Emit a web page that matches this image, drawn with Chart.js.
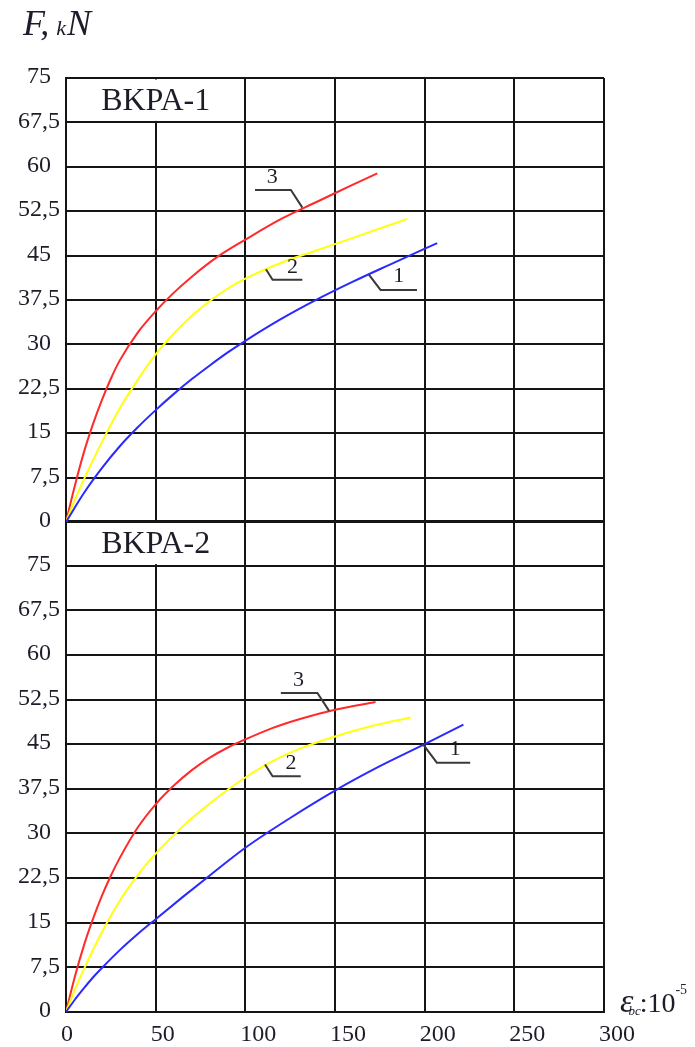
<!DOCTYPE html>
<html><head><meta charset="utf-8">
<script src="https://cdn.jsdelivr.net/npm/chart.js@4.4.0/dist/chart.umd.min.js"></script>
<style>
html,body{margin:0;padding:0;background:#fff;}
#wrap{position:relative;width:695px;height:1047px;}
canvas{position:absolute;left:0;top:0;}
</style></head><body>
<div id="wrap">
<canvas id="bot" width="695" height="1047"></canvas>
<canvas id="top" width="695" height="545"></canvas>
</div>
<script>
// ---- data ----
const xTicks = [0, 50, 100, 150, 200, 250, 300];
const xTickLabels = ['0', '50', '100', '150', '200', '250', '300'];
const yTicks = [0, 7.5, 15, 22.5, 30, 37.5, 45, 52.5, 60, 67.5, 75];
const yTickLabels = ['0', '7,5', '15', '22,5', '30', '37,5', '45', '52,5', '60', '67,5', '75'];
const seriesNames = ['1', '2', '3'];
const panelTitles = ['BKPA-1', 'BKPA-2'];

// Panel BKPA-1
const p1s1x = [0, 10, 20, 30, 40, 50, 60, 70, 80, 90, 100, 120, 140, 160, 180, 207];
const p1s1y = [0, 4.9, 9.1, 12.8, 16, 18.9, 21.6, 24.1, 26.4, 28.6, 30.6, 34.3, 37.6, 40.6, 43.4, 47.1];
const p1s2x = [0, 5, 10, 20, 30, 40, 50, 60, 70, 80, 90, 100, 120, 140, 160, 190.3];
const p1s2y = [0, 3.8, 7.2, 13.5, 19.2, 24, 28.3, 31.8, 34.8, 37.3, 39.4, 41.1, 43.8, 45.9, 48, 51.2];
const p1s3x = [0, 5, 10, 15, 20, 25, 30, 40, 50, 60, 70, 85, 100, 120, 140, 160, 173.6];
const p1s3y = [0, 6.2, 11.8, 16.5, 20.6, 24.2, 27.3, 32, 35.6, 38.7, 41.4, 44.9, 47.7, 51.2, 54.1, 57, 58.9];

// Panel BKPA-2
const p2s1x = [0, 5, 10, 15, 20, 30, 40, 50, 65, 80, 100, 125, 150, 175, 200, 221.6];
const p2s1y = [0, 2.1, 4.0, 5.8, 7.4, 10.4, 13.1, 15.6, 19.3, 22.9, 27.6, 32.6, 37.2, 41.3, 45, 48.3];
const p2s2x = [0, 5, 10, 20, 30, 40, 50, 60, 70, 80, 90, 100, 115, 130, 150, 170, 192.2];
const p2s2y = [0, 3.8, 7.2, 13.4, 18.7, 23, 26.6, 29.7, 32.5, 35, 37.3, 39.4, 42.1, 44.2, 46.3, 48, 49.5];
const p2s3x = [0, 5, 10, 15, 20, 25, 30, 40, 50, 60, 70, 80, 90, 100, 115, 130, 150, 172.6];
const p2s3y = [0, 6, 11.2, 15.6, 19.5, 22.9, 25.9, 31, 34.9, 38, 40.6, 42.7, 44.4, 45.8, 47.7, 49.2, 50.8, 52.1];

// ---- styling ----
const SERIF = '"Liberation Serif", "Times New Roman", serif';
const colors = ['#2a2aff', '#ffff10', '#ff2a2a'];
const gridColor = '#151515';
const textColor = '#1d1d2a';
const TICK_FONT = '24px ' + SERIF;

// callout leaders (data coordinates)
const callouts1 = [
  {label: seriesNames[2], path: [[105.4, 56.1], [125.4, 56.1], [131.8, 53.1]], at: [115, 58.3]},
  {label: seriesNames[1], path: [[111.5, 42.7], [115.2, 40.9], [131.8, 40.9]], at: [126.3, 43]},
  {label: seriesNames[0], path: [[168.9, 41.8], [175.4, 39.2], [195.7, 39.2]], at: [185.6, 41.6]}
];
const callouts2 = [
  {label: seriesNames[2], path: [[119.8, 53.6], [140.2, 53.6], [146.7, 50.6]], at: [129.6, 55.8]},
  {label: seriesNames[1], path: [[111, 41.6], [115.2, 39.6], [130.9, 39.6]], at: [125.4, 41.8]},
  {label: seriesNames[0], path: [[199, 45], [206.8, 41.9], [225.4, 41.9]], at: [217, 44.2]}
];

function pts(xs, ys) { return xs.map((x, i) => ({x: x, y: ys[i]})); }
function ds(xs, ys, i) {
  return {label: seriesNames[i], data: pts(xs, ys), borderColor: colors[i], borderWidth: 2,
    pointRadius: 0, fill: false, cubicInterpolationMode: 'monotone'};
}

function makeScales(yMax, yTickVals, xHeight) {
  return {
    x: {
      type: 'linear', min: 0, max: 300,
      afterBuildTicks: s => { s.ticks = xTicks.map(v => ({value: v})); },
      afterFit: s => { s.height = xHeight; },
      ticks: {display: false},
      grid: {color: gridColor, lineWidth: 2, drawTicks: false},
      border: {color: gridColor, width: 2}
    },
    y: {
      type: 'linear', min: 0, max: yMax,
      afterBuildTicks: s => { s.ticks = yTickVals.map(v => ({value: v})); },
      afterFit: s => { s.width = 66; },
      ticks: {display: false},
      grid: {color: gridColor, lineWidth: 2, drawTicks: false},
      border: {color: gridColor, width: 2}
    }
  };
}

// tick labels drawn at the library's own tick positions
function drawYLabels(chart) {
  const ys = chart.scales.y, ctx = chart.ctx;
  ctx.save();
  ctx.fillStyle = textColor;
  ctx.font = TICK_FONT;
  ctx.textAlign = 'right';
  ctx.textBaseline = 'middle';
  yTicks.forEach((v, i) => {
    const lab = yTickLabels[i];
    const right = lab.indexOf(',') >= 0 ? 60 : 51;
    ctx.fillText(lab, right, ys.getPixelForValue(v) - 1);
  });
  ctx.restore();
}
function drawXLabels(chart) {
  const xs = chart.scales.x, ctx = chart.ctx;
  ctx.save();
  ctx.fillStyle = textColor;
  ctx.font = TICK_FONT;
  ctx.textAlign = 'left';
  ctx.textBaseline = 'middle';
  xTicks.forEach((v, i) => {
    ctx.fillText(xTickLabels[i], xs.getPixelForValue(v) - 5, chart.chartArea.bottom + 23);
  });
  ctx.restore();
}

function panelPlugin(title, boxYLo, boxYHi, callouts, extra) {
  return {
    id: 'panel' + title,
    beforeDatasetsDraw(chart) {
      const xs = chart.scales.x, ys = chart.scales.y, ctx = chart.ctx;
      const x0 = xs.getPixelForValue(0), x1 = xs.getPixelForValue(100);
      const yA = ys.getPixelForValue(boxYHi), yB = ys.getPixelForValue(boxYLo);
      ctx.save();
      ctx.fillStyle = '#fff';
      ctx.fillRect(x0 + 1.5, yA + 1.5, x1 - x0 - 3, yB - yA - 3);
      ctx.fillStyle = textColor;
      ctx.font = '32px ' + SERIF;
      ctx.textAlign = 'center';
      ctx.textBaseline = 'middle';
      ctx.fillText(title, (x0 + x1) / 2, (yA + yB) / 2 + 1);
      ctx.restore();
    },
    afterDatasetsDraw(chart) {
      const xs = chart.scales.x, ys = chart.scales.y, ctx = chart.ctx;
      ctx.save();
      ctx.strokeStyle = '#3a3a3a';
      ctx.lineWidth = 2;
      ctx.fillStyle = textColor;
      ctx.font = '22px ' + SERIF;
      ctx.textAlign = 'center';
      ctx.textBaseline = 'middle';
      callouts.forEach(c => {
        ctx.beginPath();
        c.path.forEach((p, i) => {
          const px = xs.getPixelForValue(p[0]), py = ys.getPixelForValue(p[1]);
          if (i === 0) ctx.moveTo(px, py); else ctx.lineTo(px, py);
        });
        ctx.stroke();
        ctx.fillText(c.label, xs.getPixelForValue(c.at[0]), ys.getPixelForValue(c.at[1]));
      });
      ctx.restore();
      drawYLabels(chart);
      if (extra) extra(chart);
    }
  };
}

function drawYTitle(chart) {
  const ctx = chart.ctx;
  ctx.save();
  ctx.fillStyle = textColor;
  ctx.textBaseline = 'alphabetic';
  ctx.textAlign = 'left';
  let x = 23;
  const base = 35;
  ctx.font = 'italic 36px ' + SERIF;
  ctx.fillText('F,', x, base);
  x += ctx.measureText('F,').width + 7;
  ctx.font = 'italic 22px ' + SERIF;
  ctx.fillText('k', x, base);
  x += ctx.measureText('k').width + 1;
  ctx.font = 'italic 36px ' + SERIF;
  ctx.fillText('N', x, base);
  ctx.restore();
}

function drawXTitle(chart) {
  drawXLabels(chart);
  const ctx = chart.ctx;
  ctx.save();
  ctx.fillStyle = textColor;
  ctx.textBaseline = 'alphabetic';
  ctx.textAlign = 'left';
  const base = 1012;
  let x = 620;
  ctx.font = 'italic 34px ' + SERIF;
  ctx.fillText('ε', x, base);
  x += ctx.measureText('ε').width - 5;
  ctx.font = 'italic 13px ' + SERIF;
  ctx.fillText('bc', x, base + 3);
  x += ctx.measureText('bc').width - 1;
  ctx.font = '28px ' + SERIF;
  ctx.fillText(':10', x, base);
  x += ctx.measureText(':10').width;
  ctx.font = '14px ' + SERIF;
  ctx.fillText('-5', x, base - 18);
  ctx.restore();
}

const common = {
  responsive: false, animation: false, devicePixelRatio: 1,
  plugins: {legend: {display: false}, tooltip: {enabled: false}, title: {display: false}}
};

new Chart(document.getElementById('top'), {
  type: 'line',
  data: {datasets: [ds(p1s1x, p1s1y, 0), ds(p1s2x, p1s2y, 1), ds(p1s3x, p1s3y, 2)]},
  options: Object.assign({}, common, {
    layout: {padding: {top: 78, left: 0, right: 91, bottom: 0}},
    scales: makeScales(75, yTicks, 23)
  }),
  plugins: [panelPlugin(panelTitles[0], 67.5, 75, callouts1, drawYTitle)]
});

new Chart(document.getElementById('bot'), {
  type: 'line',
  data: {datasets: [ds(p2s1x, p2s1y, 0), ds(p2s2x, p2s2y, 1), ds(p2s3x, p2s3y, 2)]},
  options: Object.assign({}, common, {
    layout: {padding: {top: 521, left: 0, right: 91, bottom: 0}},
    scales: makeScales(82.5, yTicks.concat([82.5]), 35)
  }),
  plugins: [panelPlugin(panelTitles[1], 75, 82.5, callouts2, drawXTitle)]
});
</script>
</body></html>
